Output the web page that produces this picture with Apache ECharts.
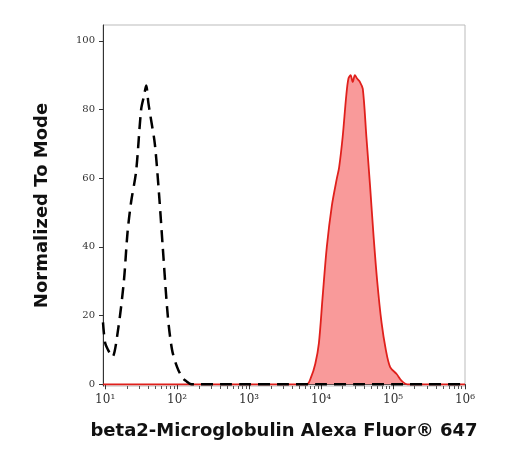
<!DOCTYPE html>
<html><head><meta charset="utf-8">
<script src="https://cdn.jsdelivr.net/npm/echarts@6/dist/echarts.min.js"></script>
<style>html,body{margin:0;background:#fff}#c{width:525px;height:453px}</style>
</head><body><div id="c"></div>
<script>
// x values are log10 of fluorescence
const controlX = [0.97, 1.0, 1.04, 1.1, 1.18, 1.26, 1.31, 1.36, 1.43, 1.5, 1.54, 1.57, 1.6, 1.63, 1.69, 1.75, 1.8, 1.87, 1.93, 2.0, 2.07, 2.12, 2.2, 2.6, 3.0, 3.5, 4.0, 4.5, 5.0, 5.5, 6.0]
const controlY = [18, 12, 10, 8, 16, 30, 44, 53, 62, 80, 84, 87, 82, 78, 70, 55, 40, 20, 10, 5, 2, 1, 0, 0, 0, 0, 0, 0, 0, 0, 0]
const stainX = [0.97, 3.8, 3.86, 3.92, 3.97, 4.02, 4.08, 4.15, 4.22, 4.25, 4.3, 4.35, 4.38, 4.41, 4.44, 4.47, 4.5, 4.54, 4.58, 4.63, 4.68, 4.73, 4.78, 4.84, 4.9, 4.96, 5.05, 5.12, 5.2, 6.0]
const stainY = [0, 0, 2, 6, 12, 25, 40, 52, 60, 63, 72, 84, 89, 90, 88, 90, 89, 88, 86, 72, 58, 43, 30, 18, 10, 5, 3, 1, 0, 0]
const majorTicks = [1, 2, 3, 4, 5, 6]
const minorTicks = []
for (let d = 0; d < 6; d++) for (let k = 2; k <= 9; k++) {
  const v = d + Math.log10(k)
  if (v > 0.97 && v < 6) minorTicks.push(v)
}
const sup = { 1: '¹', 2: '²', 3: '³', 4: '⁴', 5: '⁵', 6: '⁶' }

const chart = echarts.init(document.getElementById('c'))
chart.setOption({
  animation: false,
  grid: { left: 103, right: 60, top: 25, bottom: 67, show: true, borderColor: '#bbb', borderWidth: 1 },
  xAxis: [{
    type: 'value', min: 0.97, max: 6,
    axisLine: { lineStyle: { color: '#333' } },
    axisTick: { customValues: majorTicks, length: 5, lineStyle: { color: '#333' } },
    axisLabel: { customValues: majorTicks, formatter: v => '10' + sup[Math.round(v)], fontSize: 12, color: '#333', fontFamily: 'DejaVu Serif' },
    splitLine: { show: false },
    name: 'beta2-Microglobulin Alexa Fluor® 647', nameLocation: 'middle', nameGap: 36,
    nameTextStyle: { fontSize: 18, fontWeight: 'bold', color: '#111', fontFamily: 'DejaVu Sans' }
  }, {
    type: 'value', min: 0.97, max: 6, position: 'bottom',
    axisLine: { show: false },
    axisTick: { customValues: minorTicks, length: 3, lineStyle: { color: '#555' } },
    axisLabel: { show: false }, splitLine: { show: false }
  }],
  yAxis: {
    type: 'value', min: -0.5, max: 104.6, interval: 20,
    axisLine: { show: true, lineStyle: { color: '#333' } },
    axisTick: { customValues: [0, 20, 40, 60, 80, 100], length: 4, lineStyle: { color: '#333' } },
    axisLabel: { customValues: [0, 20, 40, 60, 80, 100], fontSize: 10, color: '#333', fontFamily: 'DejaVu Serif' },
    splitLine: { show: false },
    name: 'Normalized To Mode', nameLocation: 'middle', nameGap: 52,
    nameTextStyle: { fontSize: 18, fontWeight: 'bold', color: '#111', fontFamily: 'DejaVu Sans' }
  },
  series: [{
    type: 'line', data: stainX.map((x, i) => [x, stainY[i]]), showSymbol: false, smooth: 0.3,
    lineStyle: { color: '#e0201c', width: 1.8 }, areaStyle: { color: '#f99a9a', opacity: 1 }, z: 2
  }, {
    type: 'line', data: controlX.map((x, i) => [x, controlY[i]]), showSymbol: false, smooth: 0.3,
    lineStyle: { color: '#000', width: 2.5, type: [12, 7] }, z: 3
  }]
})
</script></body></html>
